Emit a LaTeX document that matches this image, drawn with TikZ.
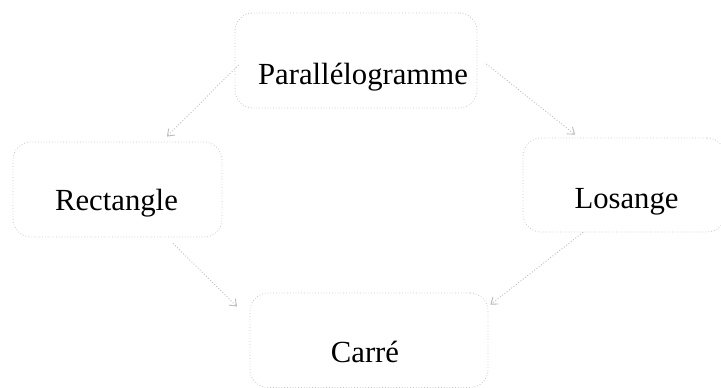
\documentclass[tikz,border=0pt]{standalone}
\usepackage{fontspec}
\setmainfont{Liberation Serif}
\usetikzlibrary{arrows.meta,calc}
\tikzset{
  box/.style={draw=gray!45, dotted, line width=0.8pt, rounded corners=18pt, inner sep=0pt, minimum width=#1},
  lab/.style={font=\fontsize{30.7}{36}\selectfont, inner sep=0pt, anchor=center},
  conn/.style={draw=gray!55, dotted, line width=0.9pt, -{Straight Barb[length=6pt,width=9pt]}}
}
\begin{document}
\begin{tikzpicture}[x=1pt,y=-1pt]
\useasboundingbox (0,0) rectangle (721,388);
\node[box=242pt, minimum height=95pt] (pbox) at (356,60.5) {};
\node[box=209pt, minimum height=95pt] (rbox) at (117.5,189.5) {};
\node[box=202pt, minimum height=94pt] (lbox) at (624,185) {};
\node[box=238pt, minimum height=94.5pt] (cbox) at (369,340.25) {};
\node[lab] (p) at (363,77) {Parallélogramme};
\node[lab] (r) at (116.5,203) {Rectangle};
\node[lab] (l) at (626.5,202) {Losange};
\node[lab] (c) at (365,352) {Carré};
\draw[conn] ($(pbox.west)+(4,4.5)$) -- ($(rbox.north)+(49.5,-5)$);
\draw[conn] ($(pbox.east)+(9,3.5)$) -- ($(lbox.north)+(-49,-3)$);
\draw[conn] ($(rbox.south)+(55.5,6)$) -- ($(cbox.north)+(-132,14)$);
\draw[conn] ($(lbox.south)+(-41,0)$) -- ($(cbox.north east)+(2,12)$);
\end{tikzpicture}
\end{document}
